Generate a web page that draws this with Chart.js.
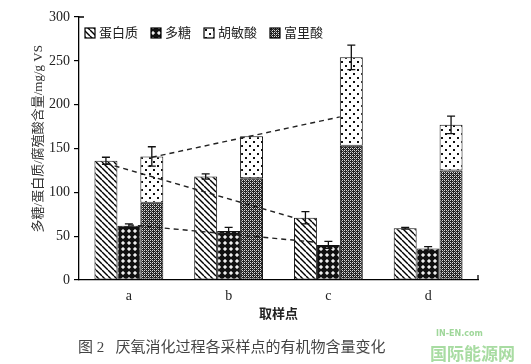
<!DOCTYPE html>
<html>
<head>
<meta charset="utf-8">
<script src="https://cdn.jsdelivr.net/npm/chart.js@4.4.0/dist/chart.umd.min.js"></script>
<style>
body { margin: 0; background: #fff; }
#wrap { position: relative; width: 531px; height: 364px; }
#legenda { position: absolute; left: 78px; top: 335px; font: 15px 'Liberation Serif', 'Noto Sans CJK SC'; color: #444; white-space: pre; }
#marca { position: absolute; left: 436px; top: 329px; color: #9fd79a; font: bold 8px 'DejaVu Sans'; }
#marca2 { position: absolute; left: 430px; top: 340px; color: #a8dca2; font: bold 17px 'Noto Sans CJK SC'; }
</style>
</head>
<body>
<div id="wrap">
<canvas id="grafico" width="531" height="364"></canvas>
<div id="legenda">图 2   厌氧消化过程各采样点的有机物含量变化</div>
<div id="marca">IN-EN.com</div>
<div id="marca2">国际能源网</div>
</div>
<script>
const pontos = ['a', 'b', 'c', 'd'];
const proteina = [136, 118, 71, 59];
const erroProteina = [4, 3, 7, 1];
const polissacarideo = [62, 56, 40, 36];
const erroPoli = [2, 4, 4, 2];
const fulvico = [88, 116, 153, 125];
const humico = [53, 48, 101, 52];
const erroHumico = [11, 0, 14, 10];
// linhas tracejadas a -> c
const tendProteina = [133, null, 71, null];
const tendPoli = [63, null, 43, null];
const tendHumico = [140, null, 186, null];

const fonteSerif = "'Liberation Serif', 'Noto Sans CJK SC'";

function padrao(tam, desenha) {
    const c = document.createElement('canvas');
    c.width = tam; c.height = tam;
    const g = c.getContext('2d');
    desenha(g, tam);
    return document.getElementById('grafico').getContext('2d').createPattern(c, 'repeat');
}

const hachura = padrao(6, (g, t) => {
    g.fillStyle = '#fff'; g.fillRect(0, 0, t, t);
    g.strokeStyle = '#000'; g.lineWidth = 1.4;
    for (const d of [-t, 0, t]) {
        g.beginPath(); g.moveTo(d, 0); g.lineTo(d + t, t); g.stroke();
    }
});
const cruzes = padrao(6, (g, t) => {
    g.fillStyle = '#111'; g.fillRect(0, 0, t, t);
    g.fillStyle = '#999';
    g.fillRect(2, 1, 2, 4); g.fillRect(1, 2, 4, 2);
    g.fillStyle = '#eee';
    g.fillRect(2, 2, 2, 2);
});
const pontilhado = padrao(8, (g, t) => {
    g.fillStyle = '#fff'; g.fillRect(0, 0, t, t);
    g.fillStyle = '#111';
    g.fillRect(1, 1, 2, 2); g.fillRect(5, 5, 2, 2);
});
const xadrez = padrao(4, (g, t) => {
    g.fillStyle = '#222'; g.fillRect(0, 0, t, t);
    g.fillStyle = '#ddd';
    g.fillRect(0, 0, 1, 1); g.fillRect(2, 2, 1, 1); g.fillRect(2, 0, 1, 1); g.fillRect(0, 2, 1, 1);
    g.fillStyle = '#888';
    g.fillRect(1, 1, 1, 1); g.fillRect(3, 3, 1, 1);
});

const erros = [erroProteina, erroPoli, null, erroHumico];
const tendencias = [[0, tendProteina], [1, tendPoli], [3, tendHumico]];

const extras = {
    id: 'extras',
    afterDatasetsDraw(chart) {
        const ctx = chart.ctx;
        const y = chart.scales.y;
        const area = chart.chartArea;
        ctx.save();
        ctx.strokeStyle = '#111';
        ctx.lineWidth = 1.3;
        erros.forEach((e, i) => {
            if (!e) return;
            chart.getDatasetMeta(i).data.forEach((bar, j) => {
                if (!e[j]) return;
                const d = y.getPixelForValue(0) - y.getPixelForValue(e[j]);
                ctx.beginPath();
                ctx.moveTo(bar.x, bar.y - d); ctx.lineTo(bar.x, bar.y + d);
                ctx.moveTo(bar.x - 4, bar.y - d); ctx.lineTo(bar.x + 4, bar.y - d);
                ctx.moveTo(bar.x - 4, bar.y + d); ctx.lineTo(bar.x + 4, bar.y + d);
                ctx.stroke();
            });
        });
        ctx.setLineDash([5, 4]);
        ctx.lineWidth = 1.4;
        ctx.strokeStyle = '#222';
        tendencias.forEach(([i, vals]) => {
            const barras = chart.getDatasetMeta(i).data;
            const idx = vals.map((v, j) => v === null ? -1 : j).filter(j => j >= 0);
            ctx.beginPath();
            idx.forEach((j, k) => {
                const b = barras[j];
                const px = k === 0 ? b.x : b.x - b.width / 2;
                const py = y.getPixelForValue(vals[j]);
                if (k === 0) ctx.moveTo(px, py); else ctx.lineTo(px, py);
            });
            ctx.stroke();
        });
        ctx.setLineDash([]);
        ctx.lineWidth = 1.3;
        ctx.strokeStyle = '#000';
        ctx.beginPath();
        ctx.moveTo(area.left, area.top); ctx.lineTo(area.left + 5, area.top);
        ctx.moveTo(area.right, area.bottom); ctx.lineTo(area.right, area.bottom - 5);
        ctx.stroke();

        // legenda horizontal dentro da area
        let x = area.left + 6;
        const cy = area.top + 16;
        ctx.font = '13px ' + fonteSerif;
        ctx.textBaseline = 'middle';
        const ds = chart.data.datasets;
        [0, 1, 3, 2].forEach(i => {
            ctx.fillStyle = ds[i].backgroundColor;
            ctx.fillRect(x, cy - 5, 10, 10);
            ctx.lineWidth = 1.2;
            ctx.strokeRect(x, cy - 5, 10, 10);
            ctx.fillStyle = '#222';
            ctx.fillText(ds[i].label, x + 14, cy + 1);
            x += 14 + ctx.measureText(ds[i].label).width + 13;
        });
        ctx.restore();
    }
};

const ctxGrafico = document.getElementById('grafico').getContext('2d');
const grafico = new Chart(ctxGrafico, {
    type: 'bar',
    data: {
        labels: pontos,
        datasets: [
            { label: '蛋白质', data: proteina, stack: 'p', backgroundColor: hachura },
            { label: '多糖', data: polissacarideo, stack: 's', backgroundColor: cruzes },
            { label: '富里酸', data: fulvico, stack: 'h', backgroundColor: xadrez },
            { label: '胡敏酸', data: humico, stack: 'h', backgroundColor: pontilhado }
        ].map(d => Object.assign(d, { borderColor: '#111', borderWidth: 1, borderSkipped: false, categoryPercentage: 0.69, barPercentage: 1 }))
    },
    options: {
        responsive: false,
        animation: false,
        layout: { padding: { top: 17, right: 53, bottom: 42, left: 0 } },
        plugins: {
            legend: { display: false },
            tooltip: { enabled: false }
        },
        scales: {
            x: {
                stacked: true,
                grid: { display: false, drawTicks: false },
                border: { color: '#000', width: 1.3 },
                ticks: { color: '#222', padding: 8, font: { family: fonteSerif, size: 14 } },
                title: { display: true, text: '取样点', color: '#222', padding: 0, font: { family: fonteSerif, size: 13, weight: 'bold' } },
                afterFit: s => { s.height = 42; }
            },
            y: {
                stacked: true,
                min: 0,
                max: 300,
                ticks: { stepSize: 50, color: '#222', padding: 4, font: { family: fonteSerif, size: 14 } },
                grid: { drawOnChartArea: false, drawTicks: true, tickLength: 5, color: '#000', lineWidth: 1.2 },
                border: { color: '#000', width: 1.3 },
                title: { display: true, text: '      多糖/蛋白质/腐殖酸含量/mg/g VS', color: '#333', padding: { top: 31, bottom: 0 }, font: { family: fonteSerif, size: 13 } },
                afterFit: s => { s.width = 79; }
            }
        }
    },
    plugins: [extras]
});
</script>
</body>
</html>
